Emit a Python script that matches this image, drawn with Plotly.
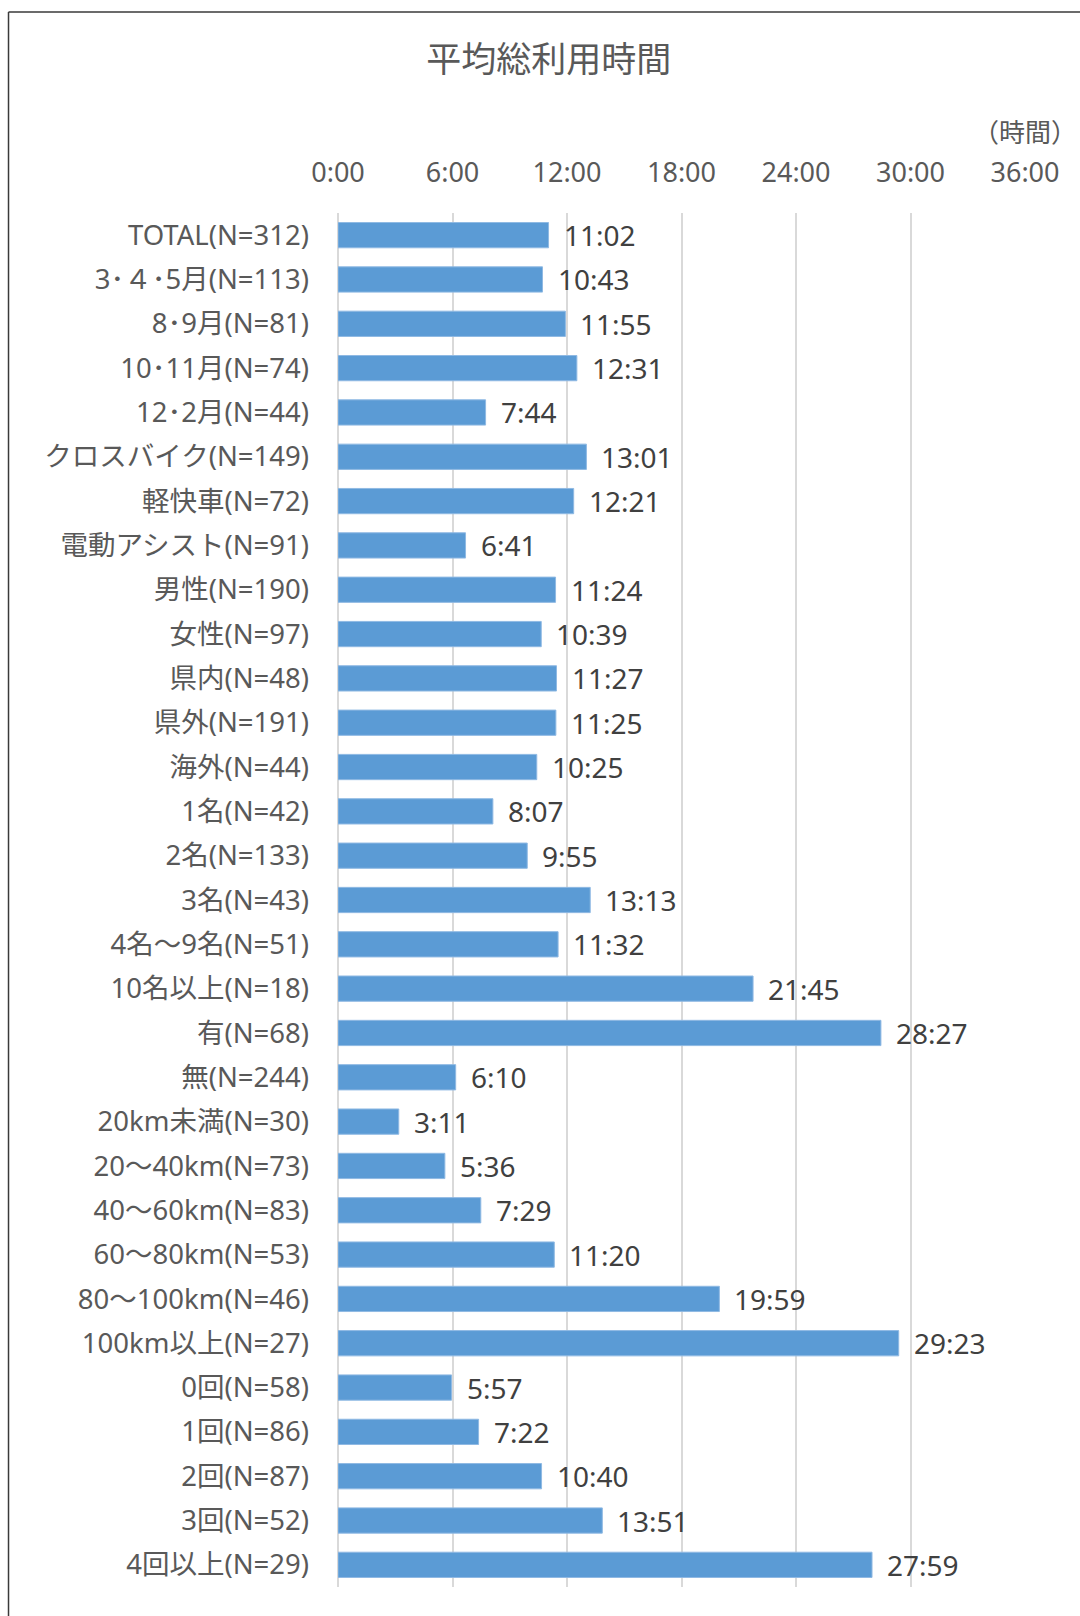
import plotly.graph_objects as go

categories = [
    "TOTAL(N=312)", "3･４･5月(N=113)", "8･9月(N=81)", "10･11月(N=74)", "12･2月(N=44)",
    "クロスバイク(N=149)", "軽快車(N=72)", "電動アシスト(N=91)", "男性(N=190)", "女性(N=97)",
    "県内(N=48)", "県外(N=191)", "海外(N=44)", "1名(N=42)", "2名(N=133)", "3名(N=43)",
    "4名～9名(N=51)", "10名以上(N=18)", "有(N=68)", "無(N=244)", "20km未満(N=30)",
    "20～40km(N=73)", "40～60km(N=83)", "60～80km(N=53)", "80～100km(N=46)",
    "100km以上(N=27)", "0回(N=58)", "1回(N=86)", "2回(N=87)", "3回(N=52)", "4回以上(N=29)",
]
time_labels = [
    "11:02", "10:43", "11:55", "12:31", "7:44", "13:01", "12:21", "6:41", "11:24", "10:39",
    "11:27", "11:25", "10:25", "8:07", "9:55", "13:13", "11:32", "21:45", "28:27", "6:10",
    "3:11", "5:36", "7:29", "11:20", "19:59", "29:23", "5:57", "7:22", "10:40", "13:51", "27:59",
]
tick_values = [0, 6, 12, 18, 24, 30, 36]
tick_text = ["0:00", "6:00", "12:00", "18:00", "24:00", "30:00", "36:00"]

hours = [int(t.split(":")[0]) + int(t.split(":")[1]) / 60 for t in time_labels]

FONT = "Noto Sans, Noto Sans CJK JP, sans-serif"
TXT = "#595959"

fig = go.Figure(go.Bar(
    x=hours, y=categories, orientation="h",
    marker=dict(color="#5B9BD5", line=dict(color="#8FB9E3", width=1)),
    hoverinfo="skip",
))

for h, c, t in zip(hours, categories, time_labels):
    fig.add_annotation(x=h, y=c, text=t, showarrow=False, xanchor="left",
                       xshift=13, font=dict(family=FONT, size=28, color="#404040"))

fig.add_annotation(x=1.0, y=1.059, xref="paper", yref="paper", text="（時間）",
                   showarrow=False, xanchor="center", yanchor="middle",
                   font=dict(family=FONT, size=26, color=TXT))

# frame lines (top and left edges of the chart area)
fig.add_shape(type="line", xref="paper", yref="paper", x0=-0.4796, x1=1.2,
              y0=1.1463, y1=1.1463, line=dict(color="#3a3a3a", width=1.5))
fig.add_shape(type="line", xref="paper", yref="paper", x0=-0.4796, x1=-0.4796,
              y0=1.1463, y1=-0.1, line=dict(color="#3a3a3a", width=1.5))

fig.update_layout(
    width=1080, height=1616,
    margin=dict(l=338, r=55, t=213, b=29),
    paper_bgcolor="white", plot_bgcolor="white",
    bargap=0.43,
    showlegend=False,
    title=dict(text="平均総利用時間", x=0.508, xanchor="center", y=1 - 60 / 1616,
               yanchor="middle", font=dict(family=FONT, size=35, color=TXT)),
    xaxis=dict(side="top", range=[0, 36], tickvals=tick_values, ticktext=tick_text,
               showgrid=True, gridcolor="#D9D9D9", gridwidth=2,
               zeroline=True, zerolinecolor="#D9D9D9", zerolinewidth=2,
               ticks="", ticklabelstandoff=25,
               tickfont=dict(family=FONT, size=27, color=TXT), fixedrange=True),
    yaxis=dict(autorange="reversed", ticks="", ticklabelstandoff=28,
               showgrid=False, tickfont=dict(family=FONT, size=27.5, color=TXT)),
)

fig.write_html("out.html")
